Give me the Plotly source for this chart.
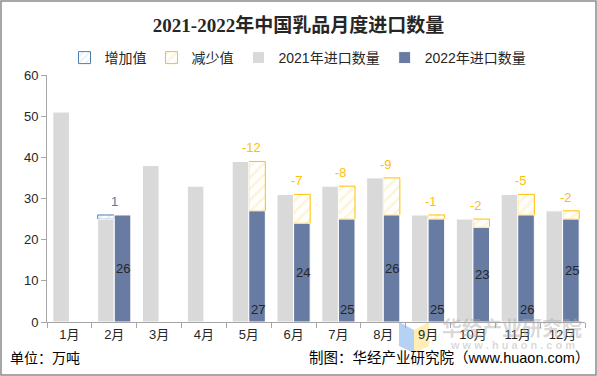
import plotly.graph_objects as go

months = ["1月", "2月", "3月", "4月", "5月", "6月", "7月", "8月", "9月", "10月", "11月", "12月"]
imports_2021 = [51, 25, 38, 33, 39, 31, 33, 35, 26, 25, 31, 27]
imports_2022 = [None, 26, None, None, 27, 24, 25, 26, 25, 23, 26, 25]

# change = 2022 - 2021 (only where 2022 exists)
change = [None if b is None else b - a for a, b in zip(imports_2021, imports_2022)]
inc = [c if (c is not None and c > 0) else None for c in change]
dec = [-c if (c is not None and c < 0) else None for c in change]
inc_base = [a if c is not None else None for a, c in zip(imports_2021, inc)]
dec_base = [b if c is not None else None for b, c in zip(imports_2022, dec)]

W, H = 597, 376
ML, MR, MT, MB = 47, 12, 75, 54
PW, PH = W - ML - MR, H - MT - MB


def px(x):
    return (x - ML) / PW


def py(y):
    return (H - MB - y) / PH


FONT = "Liberation Sans, Noto Sans CJK SC, sans-serif"
GRAY = "#d9d9d9"
BLUE = "#687ba3"
INC_C = "#4e81ad"
DEC_C = "#ffc000"

fig = go.Figure()
fig.add_trace(go.Bar(
    name="增加值", x=months, y=inc, base=inc_base, offsetgroup="a",
    marker=dict(color="white", line=dict(color=INC_C, width=1),
                pattern=dict(shape="/", fgcolor="#c6d9ec", bgcolor="white", size=6, solidity=0.3)),
    hoverinfo="skip",
))
fig.add_trace(go.Bar(
    name="减少值", x=months, y=dec, base=dec_base, offsetgroup="b",
    marker=dict(color="white", line=dict(color=DEC_C, width=1),
                pattern=dict(shape="/", fgcolor="#fde9b4", bgcolor="white", size=8, solidity=0.35)),
    hoverinfo="skip",
))
fig.add_trace(go.Bar(
    name="2021年进口数量", x=months, y=imports_2021, offsetgroup="a",
    marker=dict(color=GRAY, line=dict(color="white", width=1)),
))
fig.add_trace(go.Bar(
    name="2022年进口数量", x=months, y=imports_2022, offsetgroup="b",
    marker=dict(color=BLUE, line=dict(color="white", width=1)),
))

annotations = []
# value labels inside 2022 bars, alternating middle / bottom
k = 0
for m, v in zip(months, imports_2022):
    if v is None:
        continue
    yy = v / 2 if k % 2 == 0 else 3
    annotations.append(dict(x=m, y=yy, text=str(v), showarrow=False, xshift=9,
                            font=dict(family=FONT, size=13, color="#262626")))
    k += 1
# change labels
for m, a, c in zip(months, imports_2021, change):
    if c is None:
        continue
    if c > 0:
        annotations.append(dict(x=m, y=a + c, text=str(c), showarrow=False, yanchor="bottom",
                                yshift=4, xshift=0, font=dict(family=FONT, size=13, color=INC_C)))
    else:
        annotations.append(dict(x=m, y=a, text=str(c), showarrow=False, yanchor="bottom",
                                yshift=4, xshift=3, font=dict(family=FONT, size=13, color=DEC_C)))

# footer texts
annotations.append(dict(xref="paper", yref="paper", x=px(8), y=py(358), xanchor="left", yanchor="middle",
                        text="单位：万吨", showarrow=False, font=dict(family=FONT, size=14, color="#000")))
annotations.append(dict(xref="paper", yref="paper", x=px(591), y=py(358), xanchor="right", yanchor="middle",
                        text="制图：华经产业研究院（www.huaon.com）", showarrow=False,
                        font=dict(family=FONT, size=14.5, color="#000")))
# watermark
annotations.append(dict(xref="paper", yref="paper", x=px(512), y=py(328), xanchor="center", yanchor="middle",
                        text="<b>华经产业研究院</b>", showarrow=False,
                        font=dict(family=FONT, size=20, color="rgba(170,170,170,0.45)")))
annotations.append(dict(xref="paper", yref="paper", x=px(512), y=py(345), xanchor="center", yanchor="middle",
                        text="<b>w w w . h u a o n . c o m</b>", showarrow=False,
                        font=dict(family=FONT, size=11, color="rgba(170,170,170,0.45)")))

shapes = [
    dict(type="rect", xref="paper", yref="paper", x0=px(1), x1=px(596), y0=py(375), y1=py(1),
         line=dict(color="#8a8a8a", width=1.5), fillcolor="rgba(0,0,0,0)", layer="above"),
    dict(type="path", xref="paper", yref="paper", layer="below",
         path=f"M {px(399)},{py(322)} L {px(414)},{py(330)} L {px(414)},{py(353)} L {px(399)},{py(346)} Z",
         fillcolor="rgba(150,190,240,0.7)", line=dict(width=0)),
    dict(type="path", xref="paper", yref="paper", layer="below",
         path=f"M {px(414)},{py(330)} L {px(429)},{py(322)} L {px(429)},{py(346)} L {px(414)},{py(353)} Z",
         fillcolor="rgba(253,230,150,0.7)", line=dict(width=0)),
]

fig.update_layout(
    width=W, height=H,
    margin=dict(l=ML, r=MR, t=MT, b=MB, autoexpand=False),
    paper_bgcolor="white", plot_bgcolor="rgba(0,0,0,0)",
    barmode="group", bargap=0.26, bargroupgap=0,
    title=dict(text="<b>2021-2022年中国乳品月度进口数量</b>", x=0.5, xref="container",
               y=1 - 25 / H, yref="container", xanchor="center", yanchor="middle",
               font=dict(family="Liberation Serif, Noto Sans CJK SC, serif", size=19, color="#262626")),
    legend=dict(orientation="h", x=px(298), y=py(58),
                xanchor="center", yanchor="middle", traceorder="normal",
                font=dict(family=FONT, size=14, color="#262626"), itemwidth=30,
                bgcolor="rgba(0,0,0,0)"),
    font=dict(family=FONT, color="#262626"),
    xaxis=dict(type="category", showline=True, linecolor="#a6a6a6", linewidth=1,
               ticks="outside", tickson="boundaries", ticklen=5, tickcolor="#a6a6a6",
               tickfont=dict(family=FONT, size=13, color="#262626"), showgrid=False,
               automargin=False),
    yaxis=dict(range=[0, 60], dtick=10, showline=True, linecolor="#a6a6a6", linewidth=1,
               ticks="outside", ticklen=5, tickcolor="#a6a6a6", showgrid=False, zeroline=False,
               tickfont=dict(family=FONT, size=13, color="#262626"), automargin=False),
    annotations=annotations, shapes=shapes, showlegend=True,
)

fig.write_html("out.html", config={"displayModeBar": False},
               post_script="document.body.style.margin='0px';")
